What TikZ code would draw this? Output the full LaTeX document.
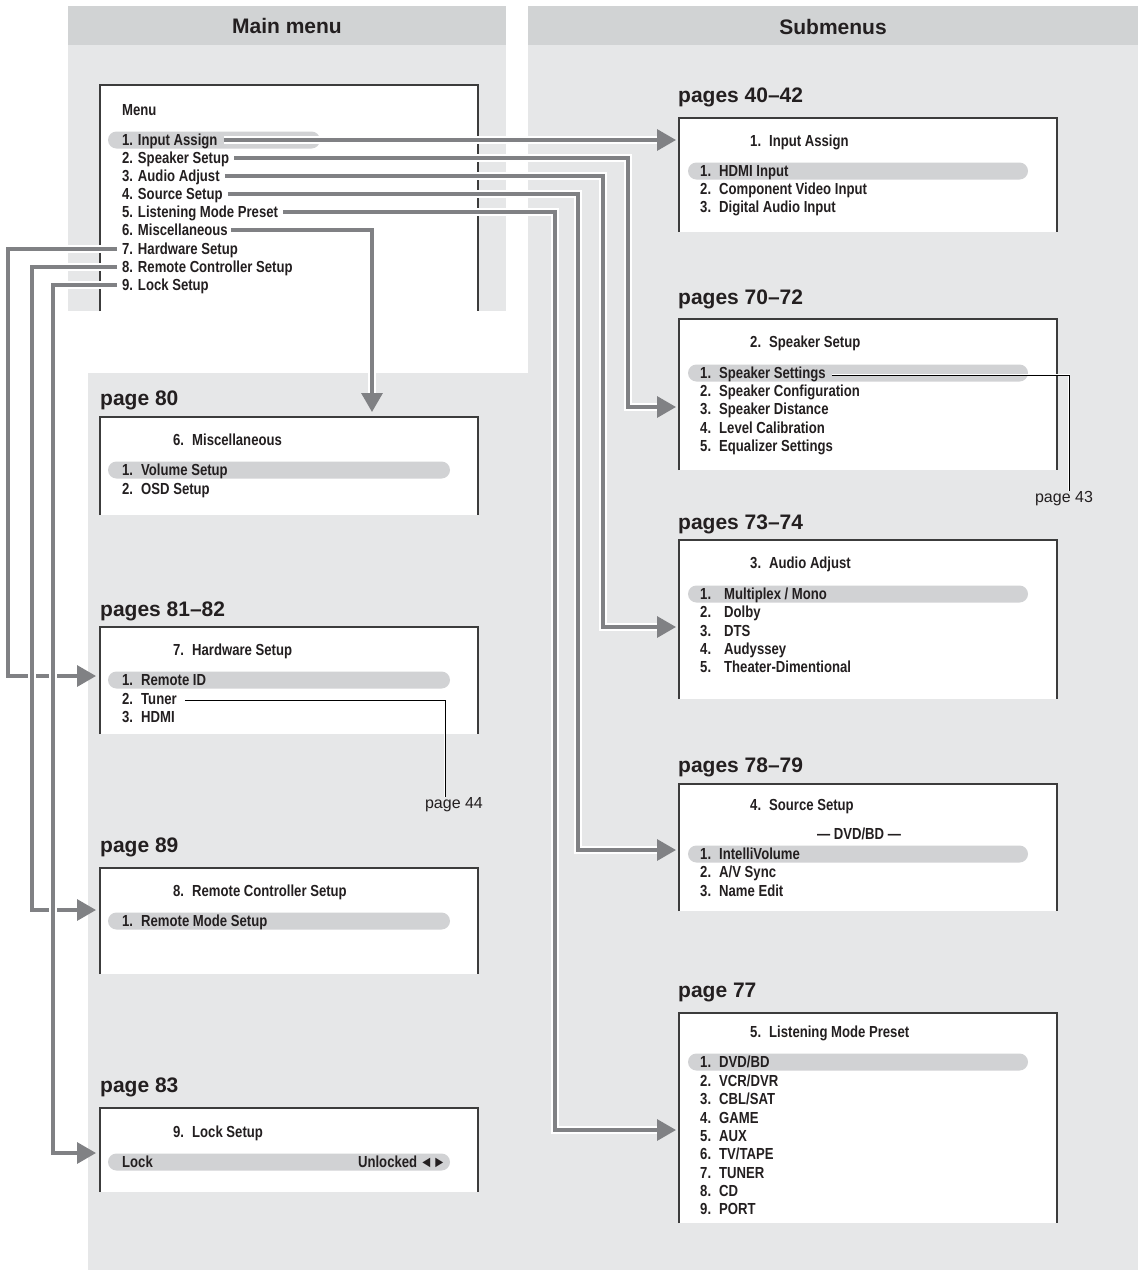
\documentclass[tikz,border=0pt]{standalone}
\usepackage{fontspec}
\setmainfont{Liberation Sans}
\newfontfamily\condf[FakeStretch=0.82]{Liberation Sans}
\usetikzlibrary{arrows.meta}
\definecolor{panelc}{HTML}{E6E7E8}
\definecolor{hdrc}{HTML}{D1D3D4}
\definecolor{pillc}{HTML}{D1D2D4}
\definecolor{lineg}{HTML}{808184}
\definecolor{boxc}{HTML}{3C3C3C}
\definecolor{txt}{HTML}{231F20}
\newcommand\itmfont{\condf\bfseries\fontsize{16}{19}\selectfont}
\newcommand\hdrfont{\bfseries\fontsize{21}{25}\selectfont}
\newcommand\pgsmall{\fontsize{16}{19}\selectfont}
\newcommand\nm[2][19pt]{\makebox[#1][l]{#2}}
\newcommand\pillat[3]{\fill[pillc, rounded corners=8.5pt] (#1,#3-8.5) rectangle (#2,#3+8.5);}
\newcommand\menubox[4]{\fill[white] (#1,#3) rectangle (#2,#4);
  \draw[boxline] (#1,#4) -- (#1,#3) -- (#2,#3) -- (#2,#4);}
\newcommand\link[1]{\draw[halo] #1; \draw[conn] #1;}
\newcommand\thinlink[1]{\draw[thinhalo] #1; \draw[thinconn] #1;}
\tikzset{
  itm/.style={font=\itmfont, text=txt, inner sep=0pt, anchor=west, text height=11pt, text depth=0pt},
  hdr/.style={font=\hdrfont, text=txt, inner sep=0pt, text height=15pt, text depth=0pt},
  pg/.style={font=\hdrfont, text=txt, inner sep=0pt, anchor=west, text height=15pt, text depth=0pt},
  pgs/.style={font=\pgsmall, text=txt, inner sep=0pt, text height=11.5pt, text depth=0pt},
  boxline/.style={draw=boxc, line width=1.2pt},
  halo/.style={draw=white, line width=7.5pt, shorten >=14pt},
  conn/.style={draw=lineg, line width=3.3pt, -{Triangle[length=19pt,width=21pt]}},
  thinhalo/.style={draw=white, line width=2.8pt},
  thinconn/.style={draw=black, line width=0.9pt},
}
\begin{document}
\begin{tikzpicture}[x=1pt,y=-1pt]
\useasboundingbox[fill=white] (0,0) rectangle (1138,1270);
% panels
\fill[hdrc] (68,6) rectangle (506,45);
\fill[panelc] (68,45) rectangle (506,311);
\fill[hdrc] (528,6) rectangle (1138,45);
\fill[panelc] (528,45) rectangle (1138,1270);
\fill[panelc] (88,373) rectangle (528,1270);
\node[hdr] (hmain) at (287,26) {Main menu};
\node[hdr] (hsub) at (833,27) {Submenus};

% main menu box
\menubox{100}{478}{85}{311}
\pillat{108}{320}{140}
\node[itm] (menu) at (122,110) {Menu};
\node[itm] (m1) at (122,140) {1. Input Assign};
\node[itm] (m2) at (122,158) {2. Speaker Setup};
\node[itm] (m3) at (122,176) {3. Audio Adjust};
\node[itm] (m4) at (122,194) {4. Source Setup};
\node[itm] (m5) at (122,212) {5. Listening Mode Preset};
\node[itm] (m6) at (122,230) {6. Miscellaneous};
\node[itm] (m7) at (122,249) {7. Hardware Setup};
\node[itm] (m8) at (122,267) {8. Remote Controller Setup};
\node[itm] (m9) at (122,285) {9. Lock Setup};

% submenu boxes (right)
\node[pg] (p1) at (678,95) {pages 40–42};
\menubox{679}{1057}{118}{232}
\pillat{688}{1028}{171}
\node[itm] (a0) at (750,141) {\nm{1.}Input Assign};
\node[itm] (a1) at (700,171) {\nm{1.}HDMI Input};
\node[itm] (a2) at (700,189) {\nm{2.}Component Video Input};
\node[itm] (a3) at (700,207) {\nm{3.}Digital Audio Input};

\node[pg] (p2) at (678,297) {pages 70–72};
\menubox{679}{1057}{319}{470}
\pillat{688}{1028}{373}
\node[itm] (b0) at (750,342) {\nm{2.}Speaker Setup};
\node[itm] (b1) at (700,373) {\nm{1.}Speaker Settings};
\node[itm] (b2) at (700,391) {\nm{2.}Speaker Configuration};
\node[itm] (b3) at (700,409) {\nm{3.}Speaker Distance};
\node[itm] (b4) at (700,428) {\nm{4.}Level Calibration};
\node[itm] (b5) at (700,446) {\nm{5.}Equalizer Settings};
\node[pgs] (p43) at (1064,497) {page 43};

\node[pg] (p3) at (678,522) {pages 73–74};
\menubox{679}{1057}{540}{699}
\pillat{688}{1028}{594}
\node[itm] (c0) at (750,563) {\nm{3.}Audio Adjust};
\node[itm] (c1) at (700,594) {\nm[24pt]{1.}Multiplex / Mono};
\node[itm] (c2) at (700,612) {\nm[24pt]{2.}Dolby};
\node[itm] (c3) at (700,631) {\nm[24pt]{3.}DTS};
\node[itm] (c4) at (700,649) {\nm[24pt]{4.}Audyssey};
\node[itm] (c5) at (700,667) {\nm[24pt]{5.}Theater-Dimentional};

\node[pg] (p4) at (678,765) {pages 78–79};
\menubox{679}{1057}{784}{911}
\pillat{688}{1028}{854}
\node[itm] (d0) at (750,805) {\nm{4.}Source Setup};
\node[itm, anchor=center] (dsrc) at (859,834) {— DVD/BD —};
\node[itm] (d1) at (700,854) {\nm{1.}IntelliVolume};
\node[itm] (d2) at (700,872) {\nm{2.}A/V Sync};
\node[itm] (d3) at (700,891) {\nm{3.}Name Edit};

\node[pg] (p5) at (678,990) {page 77};
\menubox{679}{1057}{1013}{1223}
\pillat{688}{1028}{1062}
\node[itm] (e0) at (750,1032) {\nm{5.}Listening Mode Preset};
\node[itm] (e1) at (700,1062) {\nm{1.}DVD/BD};
\node[itm] (e2) at (700,1081) {\nm{2.}VCR/DVR};
\node[itm] (e3) at (700,1099) {\nm{3.}CBL/SAT};
\node[itm] (e4) at (700,1118) {\nm{4.}GAME};
\node[itm] (e5) at (700,1136) {\nm{5.}AUX};
\node[itm] (e6) at (700,1154) {\nm{6.}TV/TAPE};
\node[itm] (e7) at (700,1173) {\nm{7.}TUNER};
\node[itm] (e8) at (700,1191) {\nm{8.}CD};
\node[itm] (e9) at (700,1209) {\nm{9.}PORT};

% submenu boxes (left)
\node[pg] (p6) at (100,398) {page 80};
\menubox{100}{478}{417}{515}
\pillat{108}{450}{470}
\node[itm] (f0) at (173,440) {\nm{6.}Miscellaneous};
\node[itm] (f1) at (122,470) {\nm{1.}Volume Setup};
\node[itm] (f2) at (122,489) {\nm{2.}OSD Setup};

\node[pg] (p7) at (100,609) {pages 81–82};
\menubox{100}{478}{627}{734}
\pillat{108}{450}{680}
\node[itm] (g0) at (173,650) {\nm{7.}Hardware Setup};
\node[itm] (g1) at (122,680) {\nm{1.}Remote ID};
\node[itm] (g2) at (122,699) {\nm{2.}Tuner};
\node[itm] (g3) at (122,717) {\nm{3.}HDMI};
\node[pgs] (p44) at (454,803) {page 44};

\node[pg] (p8) at (100,845) {page 89};
\menubox{100}{478}{868}{974}
\pillat{108}{450}{921}
\node[itm] (h0) at (173,891) {\nm{8.}Remote Controller Setup};
\node[itm] (h1) at (122,921) {\nm{1.}Remote Mode Setup};

\node[pg] (p9) at (100,1085) {page 83};
\menubox{100}{478}{1108}{1192}
\pillat{108}{450}{1162}
\node[itm] (k0) at (173,1132) {\nm{9.}Lock Setup};
\node[itm] (k1) at (122,1162) {Lock};
\node[itm, anchor=east] (k1v) at (446,1162) {Unlocked\,◄►};

% arrow targets
\coordinate (t1) at (676,140);
\coordinate (t2) at (676,407);
\coordinate (t3) at (676,627);
\coordinate (t4) at (676,850);
\coordinate (t5) at (676,1130);
\coordinate (t6) at (372,412);
\coordinate (t7) at (96,676);
\coordinate (t8) at (96,910);
\coordinate (t9) at (96,1153);

% thin page links
\thinlink{([xshift=6pt,yshift=-2pt]b1.east) -| ([xshift=5pt]p43.north)}
\thinlink{([xshift=8pt,yshift=-1pt]g2.east) -| ([xshift=-9pt]p44.north)}

% connectors
\link{([xshift=6pt]m1.east) -- (t1)}
\link{([xshift=5pt]m2.east) -| ([xshift=-48pt]t2) -- (t2)}
\link{([xshift=5pt]m3.east) -| ([xshift=-73pt]t3) -- (t3)}
\link{([xshift=5pt]m4.east) -| ([xshift=-98pt]t4) -- (t4)}
\link{([xshift=5pt]m5.east) -| ([xshift=-121pt]t5) -- (t5)}
\link{([xshift=3pt]m6.east) -| (t6)}
\link{([xshift=-5pt]m7.west) -| ([xshift=-88pt]t7) -- (t7)}
\link{([xshift=-5pt]m8.west) -| ([xshift=-64pt]t8) -- (t8)}
\link{([xshift=-5pt]m9.west) -| ([xshift=-43pt]t9) -- (t9)}
\end{tikzpicture}
\end{document}
